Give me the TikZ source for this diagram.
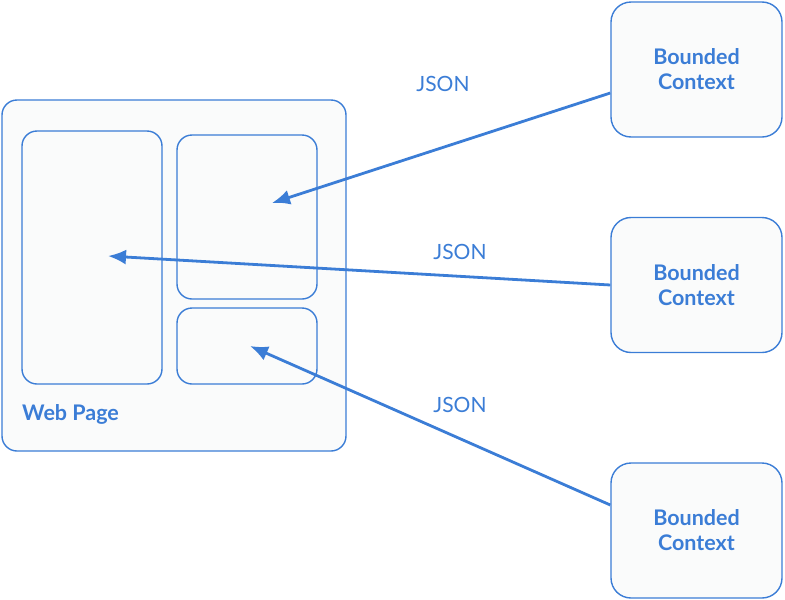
\documentclass[tikz,border=0pt]{standalone}
\usepackage{fontspec}
\setmainfont{Lato}
\usetikzlibrary{arrows.meta}
\definecolor{azul}{HTML}{3B7DD6}
\definecolor{fundo}{HTML}{FAFBFB}
\begin{document}
\begin{tikzpicture}[x=1pt, y=-1pt,
    caixa/.style={draw=azul, line width=1.4pt, rounded corners=15pt, fill=fundo, inner sep=0pt},
    contexto/.style={caixa, rounded corners=20pt, minimum width=171pt, minimum height=135pt,
      font=\fontsize{21.5}{25}\selectfont\bfseries, text=azul, align=center},
    seta/.style={draw=azul, line width=2.8pt, -{Latex[length=18pt, width=15pt]}},
    rotulo/.style={font=\fontsize{21}{24}\selectfont, text=azul}]

\useasboundingbox (0,0) rectangle (785,600);

% Web page and its panels
\node[caixa, minimum width=344pt, minimum height=351pt] (wp) at (174,275.5) {};
\node[caixa, minimum width=140pt, minimum height=253pt] (painelA) at (92,257.5) {};
\node[caixa, minimum width=140pt, minimum height=164pt] (painelB) at (247,217) {};
\node[caixa, minimum width=140pt, minimum height=76pt] (painelC) at (247,346) {};
\node[font=\fontsize{21.5}{24}\selectfont\bfseries, text=azul, anchor=west, inner sep=0pt] (wplabel) at (22,414) {Web Page};

% Bounded contexts
\node[contexto] (bc1) at (696.5,69.5) {Bounded\\Context};
\node[contexto] (bc2) at (696.5,285) {Bounded\\Context};
\node[contexto] (bc3) at (696.5,530.5) {Bounded\\Context};

% Arrow targets
\coordinate (alvoB) at (272,203);
\coordinate (alvoA) at (108,256);
\coordinate (alvoC) at (250,346);

% JSON flows
\draw[seta] ([yshift=-23.5pt]bc1.west) -- (alvoB);
\draw[seta] (bc2.west) -- (alvoA);
\draw[seta] ([yshift=25.5pt]bc3.west) -- (alvoC);

\node[rotulo] (json1) at (443,84) {JSON};
\node[rotulo] (json2) at (460,252) {JSON};
\node[rotulo] (json3) at (460,405) {JSON};

\end{tikzpicture}
\end{document}
